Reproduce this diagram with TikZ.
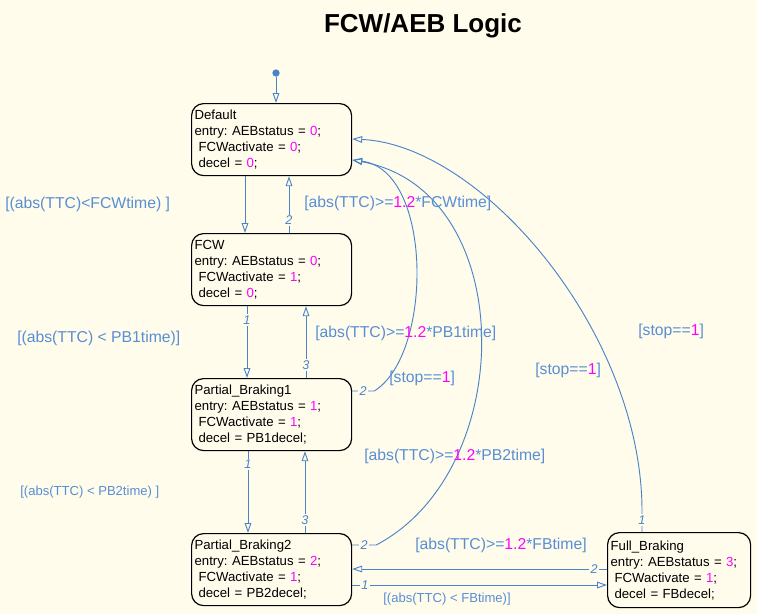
\documentclass[tikz,border=0pt]{standalone}
\usepackage{fontspec}
\setmainfont{Liberation Sans}
\usetikzlibrary{positioning,arrows.meta,calc}
\frenchspacing

\definecolor{chartbg}{RGB}{255,252,236}
\definecolor{wireblue}{RGB}{74,132,200}
\definecolor{guardblue}{RGB}{88,142,212}
\definecolor{constmag}{RGB}{255,0,255}
\newcommand{\cst}[1]{\textcolor{constmag}{#1}}
\newcommand{\ind}{\hspace*{0.3em}}

\begin{document}
\begin{tikzpicture}[x=0.75pt,y=-0.75pt,
  >={Triangle[open,length=7.5pt,width=5pt]},
  state/.style={draw,rounded corners=9pt,line width=0.9pt,anchor=north west,
    minimum width=120pt,minimum height=54pt,text width=115.5pt,
    inner xsep=2.25pt,inner ysep=2pt,align=left,
    font=\fontsize{9.9}{12}\selectfont},
  trans/.style={draw=wireblue,line width=0.7pt,->},
  guard/.style={anchor=west,inner sep=0pt,text=guardblue,
    font=\fontsize{11.8}{14}\selectfont},
  smallguard/.style={guard,font=\fontsize{9.8}{12}\selectfont},
  num/.style={text=wireblue,fill=chartbg,inner sep=1pt,
    font=\fontsize{9.5}{11}\itshape}]
\fill[chartbg] (0,0) rectangle (757,614);
\useasboundingbox (0,0) rectangle (757,614);

\node[font=\bfseries\fontsize{19.5}{22}\selectfont] (title) at (423,26) {FCW/AEB Logic};

% states
\node[state] (default) at (191,103) {Default\\entry: AEBstatus = \cst{0};\\\ind FCWactivate = \cst{0};\\\ind decel = \cst{0};};
\node[state] (fcw) at (191,233) {FCW\\entry: AEBstatus = \cst{0};\\\ind FCWactivate = \cst{1};\\\ind decel = \cst{0};};
\node[state] (pb1) at (191,378) {Partial\_Braking1\\entry: AEBstatus = \cst{1};\\\ind FCWactivate = \cst{1};\\\ind decel = PB1decel;};
\node[state] (pb2) at (191,533) {Partial\_Braking2\\entry: AEBstatus = \cst{2};\\\ind FCWactivate = \cst{1};\\\ind decel = PB2decel;};
\node[state,minimum width=107.25pt,text width=102.75pt,minimum height=56.25pt] (fb) at (607,532) {Full\_Braking\\entry: AEBstatus = \cst{3};\\\ind FCWactivate = \cst{1};\\\ind decel = FBdecel;};

% default transition
\node[circle,fill=wireblue,inner sep=0pt,minimum size=5.5pt] (init) at (276,73) {};
\draw[trans] (init) -- (init |- default.north);

% transitions down and up the column
\draw[trans] ($(default.south west)+(54,0)$) -- ($(fcw.north west)+(54,0)$);
\draw[trans] ($(fcw.north west)+(98,0)$) -- node[num,pos=0.22]{2} ($(default.south west)+(98,0)$);
\draw[trans] ($(fcw.south west)+(56,0)$) -- node[num,pos=0.19]{1} ($(pb1.north west)+(56,0)$);
\draw[trans] ($(pb1.north west)+(115,0)$) -- node[num,pos=0.18]{3} ($(fcw.south west)+(115,0)$);
\draw[trans] ($(pb1.south west)+(57,0)$) -- node[num,pos=0.16]{1} ($(pb2.north west)+(57,0)$);
\draw[trans] ($(pb2.north west)+(114,0)$) -- node[num,pos=0.16]{3} ($(pb1.south west)+(114,0)$);
\draw[trans] ($(pb2.north east)+(0,52)$) -- node[num,pos=0.05]{1} ($(fb.north west)+(0,53)$);
\draw[trans] ($(fb.north west)+(0,37)$) -- node[num,pos=0.05]{2} ($(pb2.north east)+(0,36)$);

% back to Default
\draw[trans] ($(pb1.north east)+(0,13)$) -- node[num]{2} ++(22,0)
  .. controls +(59,-36) and +(81,10) .. ($(default.north east)+(0,57)$);
\draw[trans] ($(pb2.north east)+(0,12)$) -- node[num]{2} ++(24,0)
  .. controls +(143,-75) and +(167,30) .. ($(default.north east)+(0,57)$);
\draw[trans] ($(fb.north west)+(35,0)$) -- node[num]{1} ++(0,-24)
  .. controls +(-2,-178) and +(129,6) .. ($(default.north east)+(0,36)$);

% guards
\node[guard] (g1) at (5,204) {[(abs(TTC)<FCWtime) ]};
\node[guard] (g2) at (304,203) {[abs(TTC)>=\cst{1.2}*FCWtime]};
\node[guard] (g3) at (17,338) {[(abs(TTC) < PB1time)]};
\node[guard] (g4) at (315,333) {[abs(TTC)>=\cst{1.2}*PB1time]};
\node[guard] (g5) at (389,378) {[stop==\cst{1}]};
\node[guard] (g6) at (535,370) {[stop==\cst{1}]};
\node[guard] (g7) at (638,331) {[stop==\cst{1}]};
\node[guard] (g8) at (364,456) {[abs(TTC)>=\cst{1.2}*PB2time]};
\node[smallguard] (g9) at (20,492) {[(abs(TTC) < PB2time) ]};
\node[guard] (g10) at (415,545) {[abs(TTC)>=\cst{1.2}*FBtime]};
\node[smallguard] (g11) at (383,599) {[(abs(TTC) < FBtime)]};
\end{tikzpicture}
\end{document}
